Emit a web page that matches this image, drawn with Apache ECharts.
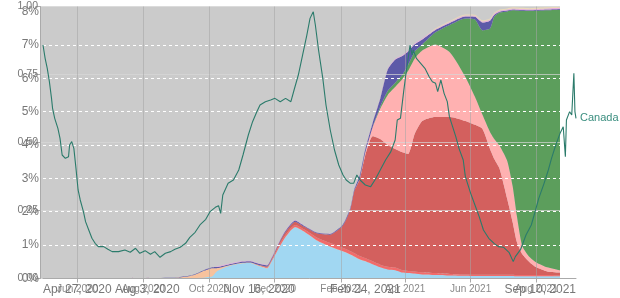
<!DOCTYPE html>
<html><head><meta charset="utf-8">
<script src="https://cdn.jsdelivr.net/npm/echarts@6/dist/echarts.min.js"></script>
<style>html,body{margin:0;padding:0;background:#fff}#c{width:620px;height:298px}</style>
</head><body><div id="c"></div>
<script>
// ---- Variant share (stacked areas, left 0..1 axis) ----
const variantDates = ['2020-04-27','2020-08-30','2020-09-09','2020-09-18','2020-09-27','2020-10-04','2020-10-08','2020-10-18','2020-10-30','2020-11-08','2020-11-17','2020-11-24','2020-11-28','2020-12-09','2020-12-20','2020-12-29','2021-01-09','2021-01-21','2021-02-02','2021-02-09','2021-02-13','2021-02-18','2021-02-23','2021-03-02','2021-03-09','2021-03-16','2021-03-23','2021-03-29','2021-04-04','2021-04-10','2021-04-17','2021-04-29','2021-05-13','2021-05-27','2021-06-05','2021-06-12','2021-06-19','2021-06-23','2021-06-28','2021-07-05','2021-07-10','2021-07-14','2021-07-19','2021-07-26','2021-08-01','2021-08-11','2021-08-23'];
const shareOther   = [0,0,0,0.002,0.004,0.008,0.026,0.044,0.055,0.057,0.045,0.037,0.062,0.14,0.188,0.17,0.14,0.118,0.1,0.088,0.08,0.07,0.063,0.052,0.041,0.033,0.03,0.022,0.02,0.018,0.015,0.013,0.011,0.01,0.009,0.009,0.009,0.009,0.009,0.009,0.009,0.008,0.008,0.008,0.008,0.008,0.008];
const sharePeach   = [0,0.002,0.006,0.012,0.025,0.03,0.012,0.003,0.002,0.002,0.002,0.002,0.001,0.001,0.001,0.001,0.001,0.001,0.001,0.001,0.001,0.001,0.001,0,0,0,0,0,0,0,0,0,0,0,0,0,0,0,0,0,0,0,0,0,0,0,0];
const shareLightRed= [0,0,0,0,0,0,0,0,0,0,0.002,0.003,0.004,0.008,0.008,0.008,0.01,0.012,0.012,0.012,0.012,0.012,0.011,0.011,0.01,0.01,0.01,0.009,0.008,0.008,0.008,0.007,0.006,0.005,0.005,0.005,0.005,0.005,0.005,0.005,0.005,0.005,0.005,0.005,0.005,0.005,0.004];
const shareAlpha   = [0,0,0,0,0,0,0,0,0,0,0,0.002,0.003,0.01,0.012,0.01,0.015,0.03,0.08,0.15,0.23,0.282,0.376,0.46,0.462,0.448,0.436,0.434,0.43,0.505,0.556,0.574,0.577,0.564,0.551,0.536,0.462,0.425,0.388,0.278,0.193,0.12,0.076,0.046,0.028,0.013,0.01];
const shareGamma   = [0,0,0,0,0,0,0,0,0,0,0,0,0,0,0,0,0,0,0,0,0,0.003,0.01,0.033,0.111,0.184,0.229,0.266,0.306,0.277,0.259,0.266,0.236,0.163,0.103,0.052,0.063,0.074,0.085,0.14,0.133,0.096,0.03,0.019,0.018,0.015,0.008];
const shareDelta   = [0,0,0,0,0,0,0,0,0,0,0,0,0,0,0,0,0,0,0,0,0,0,0,0.001,0.007,0.015,0.015,0.015,0.022,0.026,0.022,0.044,0.103,0.214,0.284,0.31,0.38,0.45,0.491,0.55,0.646,0.756,0.865,0.905,0.925,0.945,0.958];
const shareBeta    = [0,0.001,0.002,0.002,0.003,0.003,0.004,0.004,0.004,0.004,0.004,0.004,0.004,0.004,0.004,0.003,0.003,0.003,0.004,0.005,0.006,0.012,0.012,0.016,0.03,0.078,0.085,0.071,0.049,0.027,0.019,0.009,0.007,0.007,0.01,0.029,0.029,0.007,0.003,0.003,0.003,0.003,0.003,0.003,0.003,0.003,0.003];
const shareLightPink=[0,0,0,0,0,0,0.002,0.002,0.002,0.002,0.002,0.002,0.002,0.002,0.002,0.001,0.001,0.001,0.001,0.002,0.002,0.002,0.002,0.002,0.003,0.003,0.003,0.003,0.003,0.003,0.003,0.003,0.004,0.004,0.004,0.004,0.004,0.004,0.004,0.004,0.004,0.004,0.004,0.004,0.004,0.004,0.004];
const shareBeige   = [0,0,0,0,0,0,0,0,0,0,0,0,0,0,0,0,0,0,0,0,0,0,0,0,0,0,0,0,0,0,0,0.003,0.004,0.004,0.004,0.004,0.004,0.004,0.004,0.004,0.004,0.004,0.004,0.004,0.004,0.004,0.004];
const areaTickDates = ['2020-06-01','2020-08-01','2020-10-01','2020-12-01','2021-02-01','2021-04-01','2021-06-01','2021-08-01'];

// ---- Canada test positivity (line, 0..8%) ----
const lineDates = ['2020-04-27','2020-04-29','2020-05-01','2020-05-03','2020-05-05','2020-05-06','2020-05-08','2020-05-11','2020-05-13','2020-05-15','2020-05-18','2020-05-21','2020-05-22','2020-05-24','2020-05-26','2020-05-28','2020-05-30','2020-06-01','2020-06-04','2020-06-06','2020-06-09','2020-06-12','2020-06-15','2020-06-18','2020-06-23','2020-06-27','2020-07-01','2020-07-07','2020-07-13','2020-07-18','2020-07-23','2020-07-27','2020-08-01','2020-08-06','2020-08-10','2020-08-15','2020-08-20','2020-08-25','2020-08-29','2020-09-03','2020-09-08','2020-09-12','2020-09-17','2020-09-22','2020-09-27','2020-10-01','2020-10-06','2020-10-09','2020-10-11','2020-10-13','2020-10-18','2020-10-23','2020-10-28','2020-11-01','2020-11-06','2020-11-10','2020-11-14','2020-11-17','2020-11-22','2020-11-27','2020-12-01','2020-12-06','2020-12-11','2020-12-16','2020-12-19','2020-12-23','2020-12-27','2020-12-31','2021-01-03','2021-01-06','2021-01-08','2021-01-11','2021-01-15','2021-01-18','2021-01-22','2021-01-26','2021-01-30','2021-02-03','2021-02-06','2021-02-10','2021-02-13','2021-02-16','2021-02-19','2021-02-24','2021-03-01','2021-03-05','2021-03-10','2021-03-15','2021-03-20','2021-03-24','2021-03-26','2021-03-29','2021-04-01','2021-04-03','2021-04-05','2021-04-07','2021-04-09','2021-04-10','2021-04-13','2021-04-17','2021-04-21','2021-04-25','2021-04-28','2021-05-01','2021-05-03','2021-05-06','2021-05-09','2021-05-12','2021-05-14','2021-05-17','2021-05-20','2021-05-23','2021-05-27','2021-05-29','2021-06-03','2021-06-07','2021-06-11','2021-06-15','2021-06-20','2021-06-25','2021-06-29','2021-07-04','2021-07-09','2021-07-13','2021-07-15','2021-07-20','2021-07-25','2021-07-30','2021-08-03','2021-08-06','2021-08-11','2021-08-15','2021-08-18','2021-08-22','2021-08-26','2021-08-29','2021-08-31','2021-09-01','2021-09-04','2021-09-06','2021-09-08','2021-09-09','2021-09-10'];
const linePositivity = [7.0,6.6,6.3,5.9,5.4,5.1,4.8,4.5,4.2,3.7,3.6,3.65,4.0,4.1,3.9,3.3,2.65,2.35,2.0,1.7,1.45,1.2,1.05,0.95,0.95,0.87,0.8,0.8,0.85,0.78,0.9,0.75,0.83,0.72,0.8,0.63,0.75,0.8,0.87,0.93,1.05,1.23,1.38,1.62,1.77,2.0,2.13,2.18,1.95,2.5,2.85,2.95,3.25,3.7,4.3,4.7,5.0,5.2,5.3,5.35,5.4,5.3,5.4,5.3,5.65,6.1,6.7,7.3,7.8,8.0,7.6,6.85,6.0,5.2,4.45,3.85,3.4,3.1,2.95,2.85,2.85,3.1,2.95,2.8,2.75,2.95,3.25,3.55,3.8,4.15,4.75,4.8,5.6,6.1,6.55,7.0,6.7,6.85,6.6,6.45,6.3,6.05,5.9,5.85,5.6,5.95,5.55,5.3,4.85,4.55,4.25,3.9,3.55,3.05,2.55,2.2,1.85,1.45,1.2,1.05,0.95,0.93,0.78,0.5,0.65,0.87,1.3,1.6,2.05,2.4,2.85,3.25,3.6,4.0,4.35,4.55,3.65,4.75,5.0,4.9,6.15,5.0,4.8];
const lineTickDates = ['2020-04-27','2020-08-03','2020-11-16','2021-02-24','2021-09-10'];

const MONTHS = ['Jan','Feb','Mar','Apr','May','Jun','Jul','Aug','Sep','Oct','Nov','Dec'];
function ts(s){const p=s.split('-').map(Number);return new Date(p[0],p[1]-1,p[2]).getTime();}
function fmtMonth(v){const d=new Date(v);return MONTHS[d.getMonth()]+' '+d.getFullYear();}
function fmtDay(v){const d=new Date(v);return MONTHS[d.getMonth()]+' '+d.getDate()+', '+d.getFullYear();}

const layers = [
  ['Other', shareOther, '#a1d7f2'],
  ['B.1.438.1', sharePeach, '#f7c29d'],
  ['Alpha sub', shareLightRed, '#f26b6b'],
  ['Alpha', shareAlpha, '#d3605e'],
  ['Gamma', shareGamma, '#ffb1b1'],
  ['Delta', shareDelta, '#5c9e5c'],
  ['Beta', shareBeta, '#5d5aa8'],
  ['Eta', shareLightPink, '#e6b0dc'],
  ['Iota', shareBeige, '#ead9b9']
];

const areaSeries = layers.map(function(l){
  return {
    name: l[0], type:'line', stack:'share', xAxisIndex:0, yAxisIndex:0,
    smooth:0.2, symbol:'none', z:2,
    lineStyle:{width:0}, areaStyle:{color:l[2], opacity:1}, itemStyle:{color:l[2]},
    data: variantDates.map(function(d,i){return [ts(d), l[1][i]];})
  };
});

const AREA_MIN = ts('2020-04-27'), AREA_MAX = ts('2021-08-23');
const chart = echarts.init(document.getElementById('c'), null, {renderer:'canvas'});
chart.setOption({
  animation:false,
  textStyle:{fontFamily:'Liberation Sans, Arial, sans-serif'},
  grid:[
    {left:40, right:60, top:6.5, bottom:19.5, show:true, backgroundColor:'#cbcbcb', borderWidth:0},
    {left:43, right:44, top:11.7, bottom:19.7, show:false}
  ],
  xAxis:[
    {type:'time', gridIndex:0, position:'top', min:AREA_MIN, max:AREA_MAX, show:false},
    {type:'value', gridIndex:1, min:ts('2020-04-27'), max:ts('2021-09-10'), z:4,
     axisLine:{show:true, lineStyle:{color:'#aaa'}}, axisTick:{show:false},
     axisLabel:{customValues: lineTickDates.map(ts), formatter: fmtDay, fontSize:12, color:'#777', margin:5,
                alignMinLabel:'left', alignMaxLabel:'right'},
     splitLine:{show:false}},
    {type:'value', gridIndex:0, position:'bottom', min:AREA_MIN, max:AREA_MAX, z:3,
     axisLine:{show:false},
     axisTick:{show:true, customValues: areaTickDates.map(ts), length:4, lineStyle:{color:'#aaa'}},
     axisLabel:{customValues: areaTickDates.map(ts), formatter: fmtMonth, fontSize:10, color:'#888', margin:6},
     splitLine:{show:true, lineStyle:{color:'rgba(165,165,165,0.55)', width:1}}}
  ],
  yAxis:[
    {type:'value', gridIndex:0, min:0, max:1, interval:0.25, z:3,
     axisLine:{show:true, lineStyle:{color:'#aaa'}},
     axisTick:{show:true, length:4, lineStyle:{color:'#aaa'}},
     axisLabel:{formatter:function(v){return v.toFixed(2);}, fontSize:10.5, color:'#777', margin:2},
     splitLine:{show:true, lineStyle:{color:'rgba(215,215,215,0.7)'}}},
    {type:'value', gridIndex:1, min:0, max:8, interval:1, z:4,
     axisLine:{show:false}, axisTick:{show:false},
     axisLabel:{formatter:'{value}%', fontSize:12, color:'#777', margin:4},
     splitLine:{show:true, showMinLine:false, showMaxLine:false, lineStyle:{color:'#ffffff', type:[3,3], width:1}}}
  ],
  series: areaSeries.concat([{
    name:'Canada', type:'line', xAxisIndex:1, yAxisIndex:1, symbol:'none', z:5,
    lineStyle:{color:'#2b7b6b', width:1.1}, itemStyle:{color:'#2b7b6b'},
    endLabel:{show:true, formatter:'Canada', color:'#3a8e7f', fontSize:11, distance:4},
    data: lineDates.map(function(d,i){return [ts(d), linePositivity[i]];})
  }])
});
</script></body></html>
